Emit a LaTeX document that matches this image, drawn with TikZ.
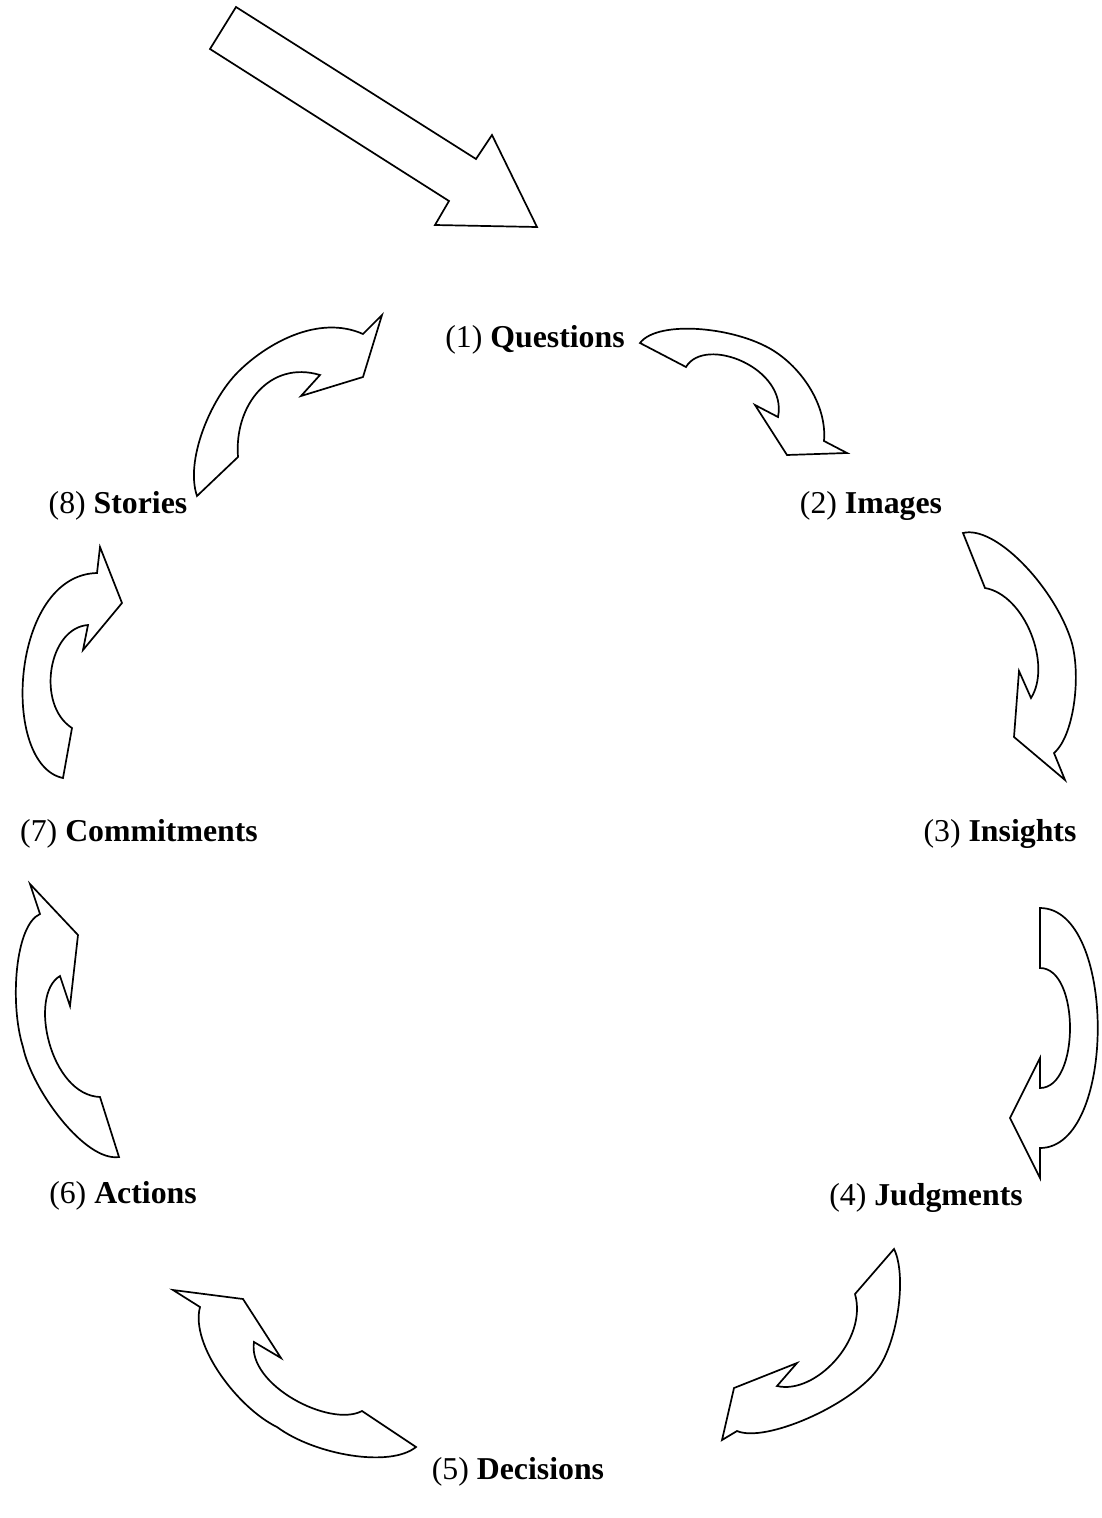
\documentclass[tikz,border=0pt]{standalone}
\usepackage{fontspec}
\setmainfont{Liberation Serif}
\begin{document}
\begin{tikzpicture}[x=1pt,y=-1pt,
  shp/.style={draw=black,line width=1.7pt,line join=miter,fill=white},
  lbl/.style={inner sep=0pt,anchor=base,font=\fontsize{31.8}{36}\selectfont}]
\useasboundingbox[fill=white] (0,0) rectangle (1102,1518);
% big entry arrow
\draw[shp] (236,7) -- (476,159) -- (492,135) -- (537,227) -- (435,225) -- (449,201) -- (210,49) -- cycle;
% 8 -> 1
\draw[shp] (197,496) -- (238,457) .. controls (234,405) and (270,360) .. (320,375) -- (301,396) -- (363,377) -- (382,315) -- (363,334)
  .. controls (318,314) and (266,344) .. (238,372) .. controls (210,400) and (185,461) .. (197,496) -- cycle;
% 1 -> 2
\draw[shp] (640,343) -- (686,367) .. controls (705,335) and (788,368) .. (778,417) -- (755,405) -- (787,455) -- (847,453) -- (824,441)
  .. controls (827,405) and (802,370) .. (777,353) .. controls (740,327) and (658,319) .. (640,343) -- cycle;
% 2 -> 3
\draw[shp] (963,533) -- (985,588) .. controls (1025,595) and (1052,665) .. (1031,698) -- (1019,671) -- (1014,737) -- (1065,780) -- (1054,753)
  .. controls (1075,735) and (1082,670) .. (1070,637) .. controls (1052,585) and (995,525) .. (963,533) -- cycle;
% 3 -> 4
\draw[shp] (1040,908) -- (1040,968) .. controls (1080,968) and (1080,1088) .. (1040,1088) -- (1040,1058) -- (1010,1118) -- (1040,1178) -- (1040,1148)
  .. controls (1117,1148) and (1117,908) .. (1040,908) -- cycle;
% 4 -> 5
\draw[shp] (894,1249) -- (855,1294) .. controls (868,1340) and (815,1395) .. (777,1386) -- (797,1363) -- (734,1388) -- (722,1440) -- (737,1431)
  .. controls (765,1443) and (850,1406) .. (877,1370) .. controls (898,1342) and (907,1275) .. (894,1249) -- cycle;
% 5 -> 6
\draw[shp] (173,1290) -- (243,1299) -- (281,1358) -- (254,1342) .. controls (247,1385) and (330,1428) .. (362,1411) -- (416,1447)
  .. controls (390,1468) and (315,1455) .. (277,1427) .. controls (238,1408) and (190,1345) .. (200,1307) -- cycle;
% 6 -> 7
\draw[shp] (30,884) -- (78,935) -- (70,1006) -- (60,976) .. controls (28,995) and (50,1095) .. (100,1097) -- (119,1157)
  .. controls (85,1162) and (32,1090) .. (23,1047) .. controls (9.5,1004) and (15,925) .. (40,914) -- cycle;
% 7 -> 8
\draw[shp] (63,778) -- (72,728) .. controls (36,705) and (48,628) .. (88,625) -- (83,650) -- (122,603) -- (100,547) -- (97,573)
  .. controls (10,575) and (0,765) .. (63,778) -- cycle;
% labels
\node[lbl] (q) at (535,347) {(1) \textbf{Questions}};
\node[lbl] (im) at (871,513) {(2) \textbf{Images}};
\node[lbl] (in) at (1000,841) {(3) \textbf{Insights}};
\node[lbl] (ju) at (926,1205) {(4) \textbf{Judgments}};
\node[lbl] (de) at (518,1479) {(5) \textbf{Decisions}};
\node[lbl] (ac) at (123,1203) {(6) \textbf{Actions}};
\node[lbl] (co) at (139,841) {(7) \textbf{Commitments}};
\node[lbl] (st) at (118,513) {(8) \textbf{Stories}};
\end{tikzpicture}
\end{document}
